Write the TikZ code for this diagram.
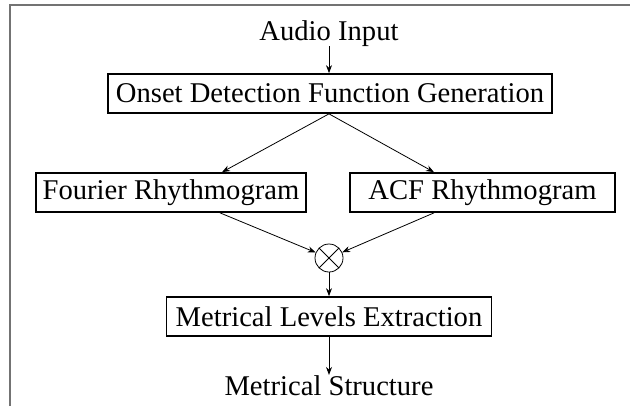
\documentclass[tikz,border=0pt]{standalone}
\usepackage{fontspec}
\setmainfont{Liberation Serif}
\usetikzlibrary{arrows.meta,calc}
\begin{document}
\begin{tikzpicture}[x=1bp,y=-1bp,
  txt/.style={inner sep=0pt, font=\fontsize{28.6bp}{32bp}\selectfont},
  box/.style={txt, draw, line width=1.7bp, minimum height=39bp},
  arr/.style={-{Stealth[length=8bp,width=6bp]}, line width=0.8bp},
  framel/.style={draw=black!55, line width=1.5bp},
  mult/.style={circle, draw, line width=0.8bp, minimum size=28bp, inner sep=0pt,
    path picture={\draw[line width=0.8bp]
      (path picture bounding box.north west) -- (path picture bounding box.south east)
      (path picture bounding box.north east) -- (path picture bounding box.south west);}}]
\useasboundingbox (0,0) rectangle (630,406);
\draw[framel] (10,406) -- (10,5) -- (630,5);
\node[txt, anchor=base] (in) at (329,40) {Audio Input};
\node[box, minimum width=444bp] (odf) at (330,93.5) {Onset Detection Function Generation};
\node[box, minimum width=270bp] (four) at (171,192.5) {Fourier Rhythmogram};
\node[box, minimum width=265bp] (acf) at (482.5,192.5) {ACF Rhythmogram};
\node[mult] (mul) at (329,258) {};
\node[box, minimum width=325bp] (me) at (329,316.5) {Metrical Levels Extraction};
\node[txt, anchor=base] (out) at (329,395) {Metrical Structure};
\draw[arr] (in) -- (in |- odf.north);
\draw[arr] (odf.south -| mul) -- ($(four.north)+(51,0)$);
\draw[arr] (odf.south -| mul) -- ($(acf.north)+(-48.5,0)$);
\draw[arr] ($(four.south)+(49,0)$) -- (mul);
\draw[arr] ($(acf.south)+(-48.5,0)$) -- (mul);
\draw[arr] (mul) -- (me);
\draw[arr] (me) -- (out);
\end{tikzpicture}
\end{document}
